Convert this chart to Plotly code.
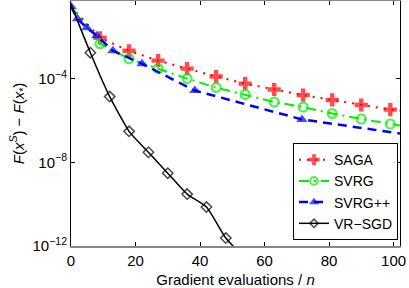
import plotly.graph_objects as go

# ---- data (log10 of objective gap) ----
saga_x = [0, 9, 18, 27, 36, 45, 54, 63, 72, 81, 90, 99, 102]
saga_logy = [-0.55, -2.05, -2.67, -3.14, -3.52, -3.90, -4.24, -4.52, -4.79, -5.02, -5.26, -5.48, -5.52]
saga_mark = [0, 1, 1, 1, 1, 1, 1, 1, 1, 1, 1, 1, 0]

svrg_x = [0, 9, 18, 27, 36, 45, 54, 63, 72, 81, 90, 99, 102]
svrg_logy = [-0.55, -2.33, -3.05, -3.52, -4.00, -4.43, -4.76, -5.12, -5.36, -5.67, -5.93, -6.17, -6.24]
svrg_mark = [0, 1, 1, 1, 1, 1, 1, 1, 1, 1, 1, 1, 0]

svrgpp_x = [0, 2, 4.9, 8, 13, 22, 38.4, 71.6, 138.4]
svrgpp_logy = [-0.55, -1.14, -1.57, -1.95, -2.67, -3.29, -4.57, -5.95, -7.43]
svrgpp_mark = [1, 1, 1, 1, 1, 1, 1, 1, 0]

vrsgd_x = [0, 6, 12, 18, 24, 30, 36, 42, 48, 54]
vrsgd_logy = [-0.45, -2.76, -4.86, -6.52, -7.52, -8.52, -9.52, -10.14, -11.62, -12.6]
vrsgd_mark = [0, 1, 1, 1, 1, 1, 1, 1, 1, 0]

x_ticks = [0, 20, 40, 60, 80, 100]
y_tick_exp = [-12, -8, -4]

font = "Liberation Sans, Arial, sans-serif"
fs = 15

def ys(l):
    return [10 ** v for v in l]

def sizes(m, s):
    return [s if v else 0 for v in m]

fig = go.Figure()
fig.add_trace(go.Scatter(
    x=saga_x, y=ys(saga_logy), name="SAGA", mode="lines+markers",
    line=dict(color="#ff0000", width=2, dash="2px,6px"),
    marker=dict(symbol="cross", size=sizes(saga_mark, 11), color="#ff0000", line=dict(width=0)),
))
fig.add_trace(go.Scatter(
    x=svrg_x, y=ys(svrg_logy), name="SVRG", mode="lines+markers",
    line=dict(color="#00ee00", width=2, dash="10px,5px,2px,5px"),
    marker=dict(symbol="circle-open", size=sizes(svrg_mark, 9), color="#00ee00", line=dict(width=2.2, color="#00ee00")),
))
fig.add_trace(go.Scatter(
    x=svrgpp_x, y=ys(svrgpp_logy), name="SVRG++", mode="lines+markers",
    line=dict(color="#0000ff", width=2.5, dash="9px,6px"),
    marker=dict(symbol="triangle-up", size=sizes(svrgpp_mark, 10), color="#0000ff", line=dict(width=0)),
))
fig.add_trace(go.Scatter(
    x=vrsgd_x, y=ys(vrsgd_logy), name="VR\u2212SGD", mode="lines+markers",
    line=dict(color="#000000", width=1.5, shape="spline", smoothing=0.5),
    marker=dict(symbol="diamond-open", size=sizes(vrsgd_mark, 8), color="#000000", line=dict(width=1.5, color="#000000")),
))

fig.update_layout(
    width=409, height=288,
    margin=dict(l=71, r=9, t=1, b=42),
    paper_bgcolor="white", plot_bgcolor="white",
    font=dict(family=font, size=fs, color="black"),
    showlegend=True,
    legend=dict(x=0.994, y=0.024, xanchor="right", yanchor="bottom",
                bgcolor="white", bordercolor="black", borderwidth=1,
                font=dict(family=font, size=14), tracegroupgap=0,
                itemwidth=30),
    xaxis=dict(range=[0, 102], tickvals=x_ticks, ticktext=[str(v) for v in x_ticks],
               ticks="inside", ticklen=4, tickcolor="black", showline=True, linecolor="#888888",
               linewidth=2, mirror="ticks", showgrid=False, zeroline=False, automargin=False,
               title=dict(text="Gradient evaluations / <i>n</i>", font=dict(size=fs), standoff=7)),
    yaxis=dict(type="log", range=[-12, -0.29], tickvals=[10 ** e for e in y_tick_exp],
               ticktext=["10<sup>\u2212%d</sup>" % (-e) for e in y_tick_exp],
               ticks="inside", ticklen=4, tickcolor="black", showline=True, linecolor="black",
               linewidth=1, mirror="ticks", showgrid=False, zeroline=False, automargin=False,
               title=dict(text="<i>F</i>(<i>x</i><sup><i>S</i></sup>) \u2212 <i>F</i>(<i>x</i><sub>*</sub>)",
                          font=dict(size=fs), standoff=4)),
)

fig.write_html("out.html", config={"displayModeBar": False},
               post_script="document.body.style.margin='0';document.body.style.overflow='hidden';")
